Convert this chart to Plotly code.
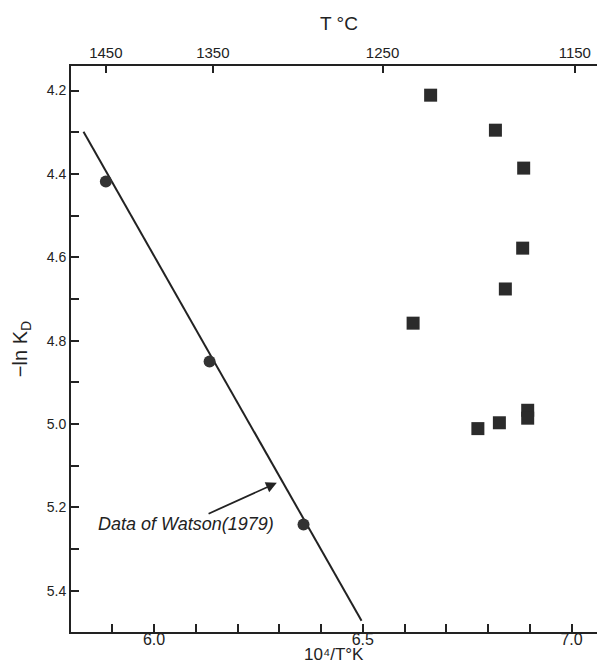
import plotly.graph_objects as go

# ---- data ----
watson_x = [5.8845, 6.133, 6.358]          # 10^4/T (K)
watson_y = [4.418, 4.850, 5.241]           # -ln KD
fit_x = [5.831, 6.497]
fit_y = [4.299, 5.472]

exp_x = [6.6625, 6.8177, 6.8854, 6.883, 6.8415, 6.6205, 6.7757, 6.8272, 6.895, 6.895]
exp_y = [4.211, 4.295, 4.386, 4.578, 4.676, 4.758, 5.011, 4.997, 4.967, 4.986]

bottom_tick_vals = [5.9, 6.0, 6.1, 6.2, 6.3, 6.4, 6.5, 6.6, 6.7, 6.8, 6.9, 7.0]
bottom_tick_text = ["", "6.0", "", "", "", "", "6.5", "", "", "", "", "7.0"]
left_tick_vals = [4.2, 4.3, 4.4, 4.5, 4.6, 4.7, 4.8, 4.9, 5.0, 5.1, 5.2, 5.3, 5.4]
left_tick_text = ["4.2", "", "4.4", "", "4.6", "", "4.8", "", "5.0", "", "5.2", "", "5.4"]
top_tick_vals = [5.8845, 6.1408, 6.5473, 7.0079]
top_tick_text = ["1450", "1350", "1250", "1150"]

XR = [5.801, 7.085]
YR = [5.499, 4.141]
FONT = "Liberation Sans, DejaVu Sans"
INK = "#222222"

fig = go.Figure()
fig.add_trace(go.Scatter(x=fit_x, y=fit_y, mode="lines",
                         line=dict(color=INK, width=2), showlegend=False, hoverinfo="skip"))
fig.add_trace(go.Scatter(x=watson_x, y=watson_y, mode="markers",
                         marker=dict(symbol="circle", size=12, color="#333333"),
                         showlegend=False))
fig.add_trace(go.Scatter(x=exp_x, y=exp_y, mode="markers",
                         marker=dict(symbol="square", size=13, color="#2b2b2b"),
                         showlegend=False))
# dummy trace for top axis
fig.add_trace(go.Scatter(x=[XR[0]], y=[YR[0]], xaxis="x2", mode="markers",
                         marker=dict(opacity=0), showlegend=False, hoverinfo="skip"))

fig.update_layout(
    width=605, height=668,
    margin=dict(l=63, r=4, t=58, b=44),
    paper_bgcolor="white", plot_bgcolor="white",
    font=dict(family=FONT, color=INK, size=15),
    xaxis=dict(range=XR, showgrid=False, zeroline=False,
               showline=True, linecolor=INK, linewidth=2,
               tickmode="array", tickvals=bottom_tick_vals, ticktext=bottom_tick_text,
               ticks="inside", ticklen=8, tickwidth=2, tickcolor=INK,
               ticklabelstandoff=-8,
               tickfont=dict(size=16)),
    xaxis2=dict(range=XR, overlaying="x", side="top", showgrid=False, zeroline=False,
                showline=True, linecolor=INK, linewidth=2,
                tickmode="array", tickvals=top_tick_vals, ticktext=top_tick_text,
                ticks="inside", ticklen=7, tickwidth=2, tickcolor=INK,
                tickfont=dict(size=15),
                title=dict(text="T °C", font=dict(size=19), standoff=8)),
    yaxis=dict(range=YR, showgrid=False, zeroline=False,
               showline=True, linecolor=INK, linewidth=2, mirror=True,
               tickmode="array", tickvals=left_tick_vals, ticktext=left_tick_text,
               ticks="inside", ticklen=8, tickwidth=2, tickcolor=INK,
               tickfont=dict(size=14),
               title=dict(text="−ln K<sub>D</sub>", font=dict(size=20), standoff=14)),
)

# bottom axis title as annotation so it fits inside the small bottom margin
fig.add_annotation(x=0.49, y=-0.040, xref="paper", yref="paper",
                   xanchor="center", yanchor="middle",
                   text="10⁴/T°K", showarrow=False, borderpad=0,
                   font=dict(size=17, family=FONT, color=INK))

fig.add_annotation(x=6.077, y=5.2407, xref="x", yref="y",
                   text="<i>Data of Watson(1979)</i>", showarrow=False,
                   font=dict(size=18, family=FONT, color=INK))
fig.add_annotation(x=6.294, y=5.141, ax=6.127, ay=5.2168, xref="x", yref="y",
                   axref="x", ayref="y", text="", showarrow=True,
                   arrowhead=2, arrowsize=1.2, arrowwidth=1.8, arrowcolor=INK)

fig.write_html("out.html")
